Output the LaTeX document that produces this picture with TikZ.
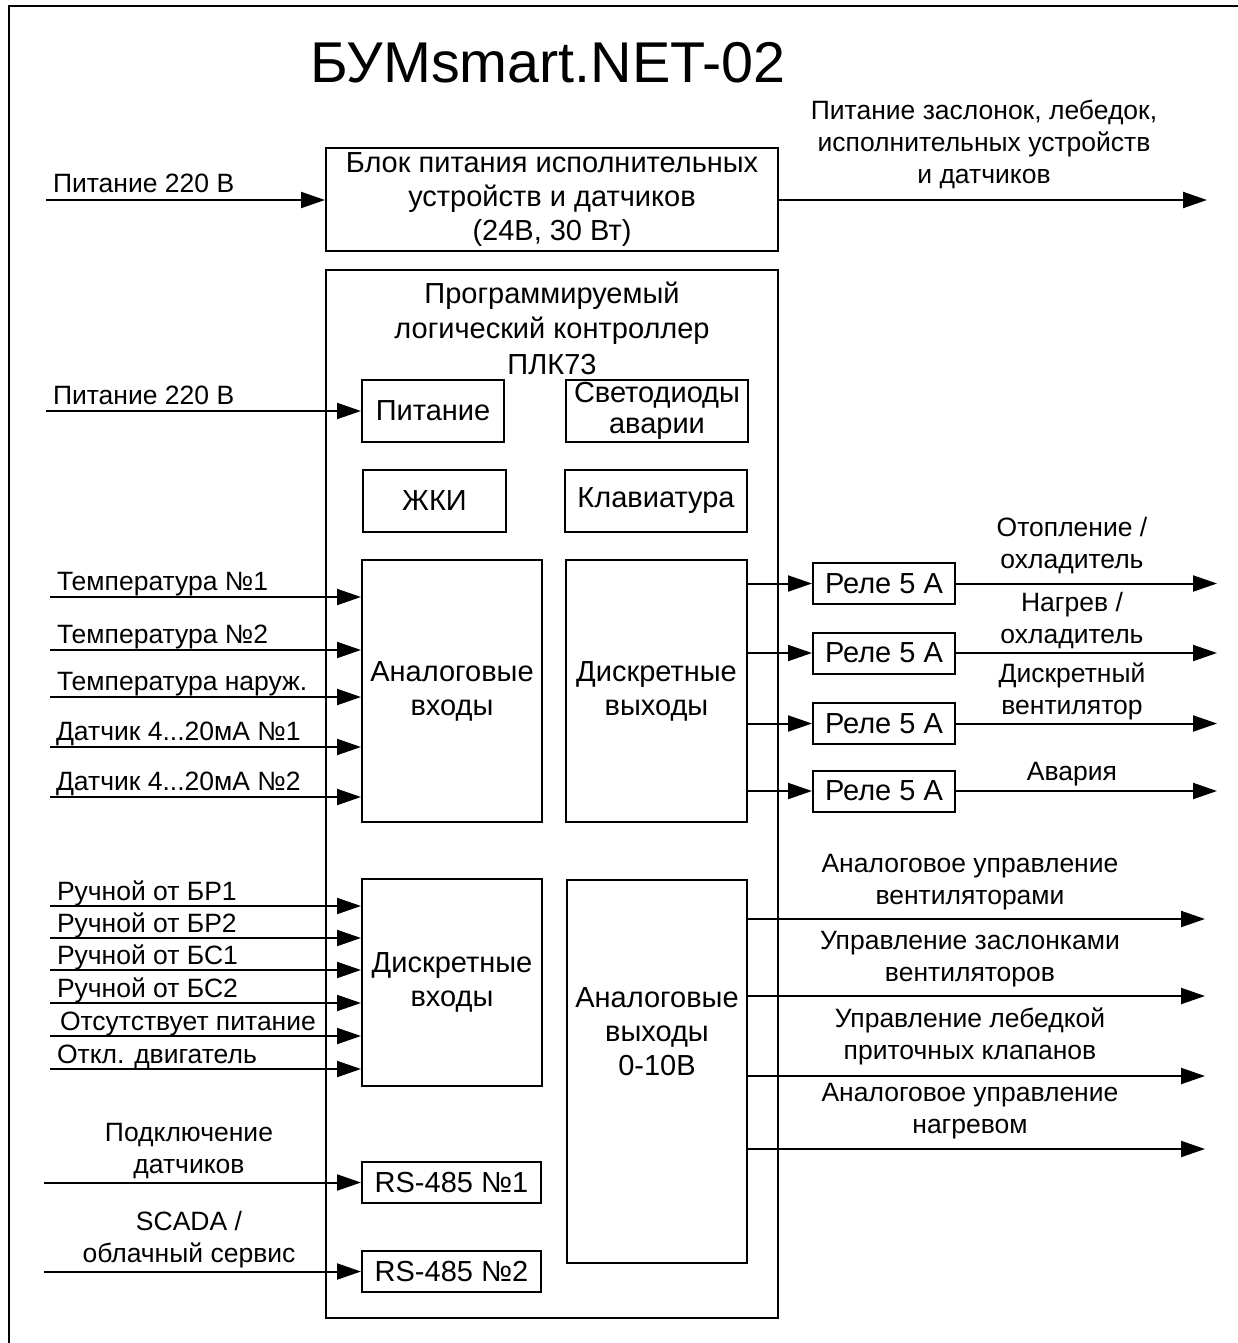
\documentclass[tikz,border=0pt]{standalone}
\usepackage{fontspec}
\setmainfont{Liberation Sans}
\usetikzlibrary{arrows.meta}
\begin{document}
\begin{tikzpicture}[x=1pt,y=-1pt,
  line width=2pt,
  arr/.style={-{Triangle[length=24pt,width=16pt]}, line width=2pt},
  blk/.style={draw, line width=2pt, inner sep=0pt, align=center, font=\fontsize{29}{34}\selectfont},
  lbl/.style={inner sep=0pt, align=center, font=\fontsize{26.5}{32}\selectfont},
  inl/.style={inner sep=0pt, anchor=base west, font=\fontsize{26.5}{32}\selectfont},
  relay/.style={blk, minimum width=142pt, minimum height=41pt},
]
\useasboundingbox (0,0) rectangle (1237,1343);
% outer frame (only top and left edges are visible)
\coordinate (fbl) at (9,1360);
\coordinate (ftl) at (9,6);
\coordinate (ftr) at (1250,6);
\draw[line width=2.5pt] (fbl) -- (ftl) -- (ftr);

% title
\node[inner sep=0pt, anchor=base, font=\fontsize{57.5}{60}\selectfont] (title) at (548,83) {БУМsmart.NET-02};

% power supply block
\node[blk, minimum width=452pt, minimum height=103pt] (bp) at (552,199.5) {Блок питания исполнительных\\устройств и датчиков\\(24В, 30 Вт)};
\coordinate (in1) at (46,200);
\node[inl] (in1t) at (52,193) {Питание 220 В};
\draw[arr] (in1) -- (in1 -| bp.west);
\coordinate (bpend) at (1207,200);
\node[lbl] (bpout) at (984,144) {Питание заслонок, лебедок,\\исполнительных устройств\\и датчиков};
\draw[arr] (bp.east |- bpend) -- (bpend);

% PLC
\node[draw, line width=2pt, minimum width=452pt, minimum height=1048pt, inner sep=0pt] (plc) at (552,794) {};
\node[lbl, font=\fontsize{29}{35.5}\selectfont] (plct) at (552,328) {Программируемый\\логический контроллер\\ПЛК73};

\node[blk, minimum width=142pt, minimum height=62pt] (pit) at (433,411) {Питание};
\node[blk, minimum width=182pt, minimum height=62pt, font=\fontsize{29}{31}\selectfont] (led) at (657,411) {Светодиоды\\аварии};
\node[blk, minimum width=143pt, minimum height=62pt] (lcd) at (434.5,501) {ЖКИ};
\node[blk, minimum width=182pt, minimum height=62pt] (kbd) at (656,501) {Клавиатура};

\coordinate (in2) at (46,411);
\node[inl] (in2t) at (52,404) {Питание 220 В};
\draw[arr] (in2) -- (pit.west);

% analog inputs
\node[blk, minimum width=180pt, minimum height=262pt] (ai) at (452,691) {Аналоговые\\входы};
\coordinate (a1) at (50,597);
\coordinate (a2) at (50,650);
\coordinate (a3) at (50,697);
\coordinate (a4) at (50,747);
\coordinate (a5) at (50,797);
\node[inl] (a1t) at (56,590) {Температура №1};
\node[inl] (a2t) at (56,643) {Температура №2};
\node[inl] (a3t) at (56,690) {Температура наруж.};
\node[inl] (a4t) at (55,740) {Датчик 4...20мА №1};
\node[inl] (a5t) at (55,790) {Датчик 4...20мА №2};
\foreach \c in {a1,a2,a3,a4,a5} \draw[arr] (\c) -- (\c -| ai.west);

% discrete outputs
\node[blk, minimum width=181pt, minimum height=262pt] (do) at (656.5,691) {Дискретные\\выходы};
\node[relay] (r1) at (884,583.5) {Реле 5 А};
\node[relay] (r2) at (884,653) {Реле 5 А};
\node[relay] (r3) at (884,723.5) {Реле 5 А};
\node[relay] (r4) at (884,791) {Реле 5 А};
\foreach \r in {r1,r2,r3,r4} \draw[arr] (do.east |- \r.west) -- (\r.west);
\coordinate (r1e) at (1217,583.5);
\coordinate (r2e) at (1217,653);
\coordinate (r3e) at (1217,723.5);
\coordinate (r4e) at (1217,791);
\draw[arr] (r1.east) -- (r1e);
\draw[arr] (r2.east) -- (r2e);
\draw[arr] (r3.east) -- (r3e);
\draw[arr] (r4.east) -- (r4e);
\node[lbl] (r1t) at (1072,546) {Отопление /\\охладитель};
\node[lbl] (r2t) at (1072,621) {Нагрев /\\охладитель};
\node[lbl] (r3t) at (1072,691) {Дискретный\\вентилятор};
\node[lbl] (r4t) at (1072,774) {Авария};

% discrete inputs
\node[blk, minimum width=180pt, minimum height=207pt] (di) at (452,982.5) {Дискретные\\входы};
\coordinate (d1) at (50,906);
\coordinate (d2) at (50,938);
\coordinate (d3) at (50,970);
\coordinate (d4) at (50,1003);
\coordinate (d5) at (50,1036);
\coordinate (d6) at (50,1069);
\node[inl] (d1t) at (56,900) {Ручной от БР1};
\node[inl] (d2t) at (56,932) {Ручной от БР2};
\node[inl] (d3t) at (56,964) {Ручной от БС1};
\node[inl] (d4t) at (56,997) {Ручной от БС2};
\node[inl] (d5t) at (59,1030) {Отсутствует питание};
\node[inl] (d6t) at (56,1063) {Откл. двигатель};
\foreach \c in {d1,d2,d3,d4,d5,d6} \draw[arr] (\c) -- (\c -| di.west);

% analog outputs
\node[blk, minimum width=180pt, minimum height=383pt] (ao) at (657,1071.5) {};
\node[lbl, font=\fontsize{29}{34}\selectfont] (aot) at (657,1032) {Аналоговые\\выходы\\0-10В};
\coordinate (o1) at (1205,919);
\coordinate (o2) at (1205,996);
\coordinate (o3) at (1205,1076);
\coordinate (o4) at (1205,1149);
\foreach \c in {o1,o2,o3,o4} \draw[arr] (ao.east |- \c) -- (\c);
\node[lbl] (o1t) at (970,882) {Аналоговое управление\\вентиляторами};
\node[lbl] (o2t) at (970,959) {Управление заслонками\\вентиляторов};
\node[lbl] (o3t) at (970,1036) {Управление лебедкой\\приточных клапанов};
\node[lbl] (o4t) at (970,1111) {Аналоговое управление\\нагревом};

% RS-485
\node[blk, minimum width=179pt, minimum height=41pt] (rs1) at (451.5,1182.5) {RS-485 №1};
\node[blk, minimum width=179pt, minimum height=41pt] (rs2) at (451.5,1271.5) {RS-485 №2};
\coordinate (s1) at (44,1182.5);
\coordinate (s2) at (44,1271.5);
\draw[arr] (s1) -- (rs1.west);
\draw[arr] (s2) -- (rs2.west);
\node[lbl] (s1t) at (189,1151) {Подключение\\датчиков};
\node[lbl] (s2t) at (189,1240) {SCADA /\\облачный сервис};
\end{tikzpicture}
\end{document}
